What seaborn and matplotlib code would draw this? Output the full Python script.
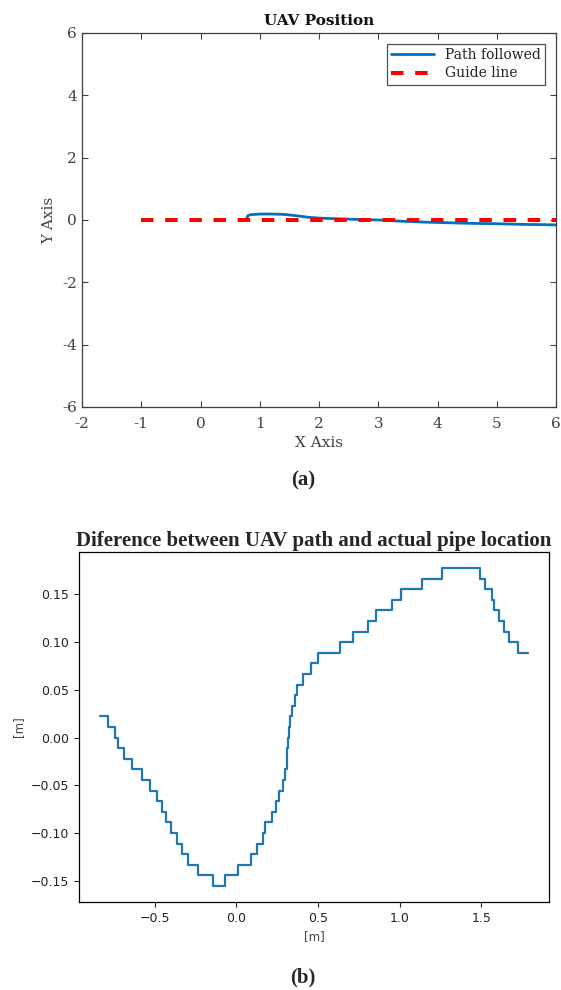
import numpy as np
import pandas as pd
import matplotlib
matplotlib.use("Agg")
import matplotlib.pyplot as plt
import seaborn as sns

# panel (a): UAV position
path_x = [0.78, 0.80, 0.85, 1.0, 1.2, 1.4, 1.6, 1.8, 2.0, 2.3, 2.6, 3.0, 3.4, 3.8, 4.2, 4.6, 5.0, 5.4, 5.8, 6.2]
path_y = [0.06, 0.14, 0.17, 0.19, 0.19, 0.18, 0.14, 0.09, 0.06, 0.04, 0.02, 0.0, -0.04, -0.07, -0.09, -0.11, -0.12, -0.14, -0.15, -0.17]
guide_x = [-1.0, 6.5]
guide_y = [0.0, 0.0]

# panel (b): difference, quantized in steps of 1/90 m
step_x = [-0.832, -0.786, -0.742, -0.723, -0.688, -0.640, -0.579, -0.531, -0.487, -0.456,
          -0.428, -0.400, -0.365, -0.334, -0.293, -0.236, -0.142, -0.066, 0.009, 0.090,
          0.129, 0.162, 0.177, 0.221, 0.245, 0.264, 0.286, 0.297, 0.308, 0.312,
          0.319, 0.325, 0.332, 0.343, 0.360, 0.369, 0.406, 0.456, 0.500, 0.635,
          0.714, 0.806, 0.854, 0.954, 1.011, 1.135, 1.260, 1.493, 1.526, 1.563,
          1.579, 1.607, 1.640, 1.672, 1.725, 1.784]
step_level = [2, 1, 0, -1, -2, -3, -4, -5, -6, -7,
              -8, -9, -10, -11, -12, -13, -14, -13, -12, -11,
              -10, -9, -8, -7, -6, -5, -4, -3, -2, -1,
              0, 1, 2, 3, 4, 5, 6, 7, 8, 9,
              10, 11, 12, 13, 14, 15, 16, 15, 14, 13,
              12, 11, 10, 9, 8, 8]

sns.set_style("ticks")

fig = plt.figure(figsize=(5.61, 9.9), dpi=100)

# ---- top panel, MATLAB look ----
serif = ["DejaVu Serif"]
gray = "#404040"
ax1 = fig.add_axes([0.1462, 0.5889, 0.8449, 0.3778])
path = pd.DataFrame({"x": path_x, "y": path_y})
guide = pd.DataFrame({"x": guide_x, "y": guide_y})
sns.lineplot(data=path, x="x", y="y", ax=ax1, color="#0072BD", lw=2, label="Path followed")
sns.lineplot(data=guide, x="x", y="y", ax=ax1, color="#FF0000", lw=2.9,
             dashes=False, label="Guide line")
ax1.lines[-1].set_dashes((3.1, 2.9))
ax1.set_xlim(-2, 6)
ax1.set_ylim(-6, 6)
ax1.set_xticks(range(-2, 7))
ax1.set_yticks(range(-6, 7, 2))
ax1.set_xticklabels([str(v) for v in range(-2, 7)], family=serif, color=gray, fontsize=11)
ax1.set_yticklabels([str(v) for v in range(-6, 7, 2)], family=serif, color=gray, fontsize=11)
ax1.tick_params(direction="in", top=True, right=True, length=4, color=gray, width=0.8)
ax1.tick_params(axis="x", pad=7)
for s in ax1.spines.values():
    s.set_color(gray)
    s.set_linewidth(0.9)
ax1.set_xlabel("X Axis", family=serif, color=gray, fontsize=11, labelpad=4)
ax1.set_ylabel("Y Axis", family=serif, color=gray, fontsize=11, labelpad=4)
ax1.set_title("UAV Position", family=serif, fontweight="bold", fontsize=11, pad=6, color="#111111")
leg = ax1.legend(loc="upper right", prop={"family": serif, "size": 10}, frameon=True,
                 fancybox=False, edgecolor="#222222", handlelength=3.1,
                 borderaxespad=0.8, labelspacing=0.3, borderpad=0.3)
leg.get_frame().set_linewidth(0.9)
for t in leg.get_texts():
    t.set_color("#222222")

fig.text(0.54, 0.515, "(a)", ha="center", va="center", family=["Liberation Serif"],
         fontweight="bold", fontsize=15)

# ---- bottom panel, plain matplotlib look ----
ax2 = fig.add_axes([0.1408, 0.0889, 0.8378, 0.3535])
diff = pd.DataFrame({"x": step_x, "y": np.array(step_level) / 90.0})
sns.lineplot(data=diff, x="x", y="y", ax=ax2, color="#1f77b4", lw=1.6, drawstyle="steps-post")
ax2.set_yticks([-0.15, -0.10, -0.05, 0.0, 0.05, 0.10, 0.15])
ax2.set_xticks([-0.5, 0.0, 0.5, 1.0, 1.5])
ax2.tick_params(labelsize=9, colors="#222222", length=3.5, width=0.8)
for s in ax2.spines.values():
    s.set_color("black")
    s.set_linewidth(0.9)
ax2.set_xlabel("[m]", fontsize=8.5, color="#444444", labelpad=4)
ax2.set_ylabel("[m]", fontsize=8.5, color="#444444", labelpad=4)
ax2.set_title("Diference between UAV path and actual pipe location",
              family=["Liberation Serif"], fontweight="bold", fontsize=15, pad=4)

fig.text(0.54, 0.0131, "(b)", ha="center", va="center", family=["Liberation Serif"],
         fontweight="bold", fontsize=15)

fig.savefig("out.png", dpi=100)
